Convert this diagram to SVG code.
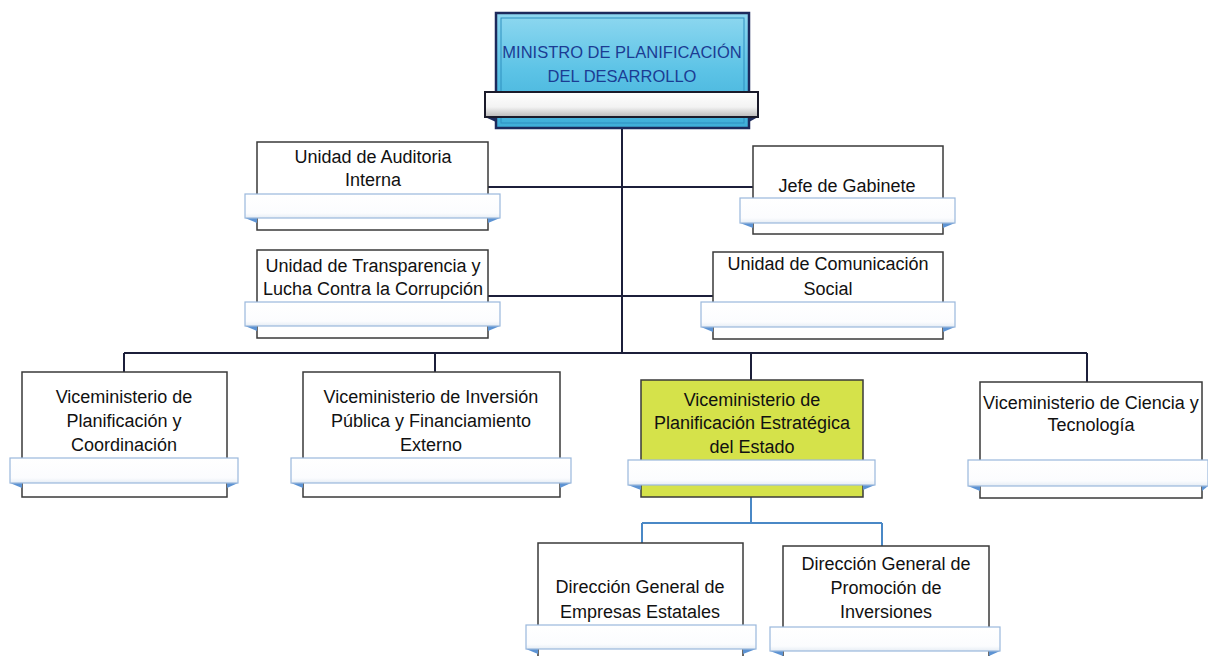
<svg xmlns="http://www.w3.org/2000/svg" width="1208" height="656" viewBox="0 0 1208 656">
<style>
  .box{fill:#ffffff;stroke:#3a3a3a;stroke-width:1.5}
  .yel{fill:#d5e24a;stroke:#3a3a3a;stroke-width:1.5}
  .rib{fill:url(#ribG);stroke:#9ab8dc;stroke-width:1.2}
  .fold{fill:#5d93d3}
  .t{font-family:"Liberation Sans",Arial,sans-serif;font-size:18px;fill:#111111;text-anchor:middle}
  .tt{font-family:"Liberation Sans",Arial,sans-serif;font-size:16.5px;fill:#1b3c93;text-anchor:middle}
  .ln{fill:none;stroke:#1c1f3a;stroke-width:2}
  .lb{fill:none;stroke:#4a88c6;stroke-width:2}
</style>
<defs>
  <linearGradient id="ribG" x1="0" y1="0" x2="0" y2="1">
    <stop offset="0" stop-color="#ffffff"/>
    <stop offset="0.8" stop-color="#fbfcfe"/>
    <stop offset="1" stop-color="#e6edf5"/>
  </linearGradient>
  <linearGradient id="topG" x1="0" y1="0" x2="0" y2="1">
    <stop offset="0" stop-color="#8fd8f0"/>
    <stop offset="0.5" stop-color="#5cc3e6"/>
    <stop offset="1" stop-color="#3eaed8"/>
  </linearGradient>
  <linearGradient id="topRib" x1="0" y1="0" x2="0" y2="1">
    <stop offset="0" stop-color="#ffffff"/>
    <stop offset="0.6" stop-color="#f3f3f3"/>
    <stop offset="1" stop-color="#b9b9b9"/>
  </linearGradient>
</defs>

<g id="connectors">
  <path class="ln" d="M622 128 V353"/>
  <path class="ln" d="M488 187 H753"/>
  <path class="ln" d="M488 296 H713"/>
  <path class="ln" d="M124 353 H1087"/>
  <path class="ln" d="M124 353 V372"/>
  <path class="ln" d="M435 353 V372"/>
  <path class="ln" d="M751 353 V380"/>
  <path class="ln" d="M1087 353 V382"/>
  <path class="lb" d="M751 497 V523"/>
  <path class="lb" d="M642 523 H882"/>
  <path class="lb" d="M642 523 V543"/>
  <path class="lb" d="M882 523 V546"/>
</g>

<g id="ministro">
  <rect x="496" y="13" width="253" height="115" fill="url(#topG)" stroke="#1c2a5c" stroke-width="2.5"/>
  <rect x="501" y="18" width="243" height="105" fill="none" stroke="#2f8fc0" stroke-width="1"/>
  <text class="tt" x="622" y="58">MINISTRO DE PLANIFICACIÓN</text>
  <text class="tt" x="622" y="82">DEL DESARROLLO</text>
  <polygon points="485,117 496,117 496,122" fill="#1c2a5c"/>
  <polygon points="758,117 749,117 749,122" fill="#1c2a5c"/>
  <rect x="485" y="92" width="273" height="25" fill="url(#topRib)" stroke="#1a1a2a" stroke-width="2"/>
</g>

<g id="auditoria">
  <rect class="box" x="257" y="142" width="231" height="88"/>
  <text class="t" x="373" y="163">Unidad de Auditoria</text>
  <text class="t" x="373" y="186">Interna</text>
  <polygon class="fold" points="245,218 257,218 257,223"/>
  <polygon class="fold" points="500,218 488,218 488,223"/>
  <rect class="rib" x="245" y="194" width="255" height="24"/>
</g>

<g id="transparencia">
  <rect class="box" x="257" y="250" width="231" height="88"/>
  <text class="t" x="373" y="272">Unidad de Transparencia y</text>
  <text class="t" x="373" y="295">Lucha Contra la Corrupción</text>
  <polygon class="fold" points="245,326 257,326 257,331"/>
  <polygon class="fold" points="500,326 488,326 488,331"/>
  <rect class="rib" x="245" y="302" width="255" height="24"/>
</g>

<g id="jefe">
  <rect class="box" x="753" y="146" width="190" height="88"/>
  <text class="t" x="847" y="192">Jefe de Gabinete</text>
  <polygon class="fold" points="740,223 753,223 753,228"/>
  <polygon class="fold" points="955,223 943,223 943,228"/>
  <rect class="rib" x="740" y="198" width="215" height="25"/>
</g>

<g id="comunicacion">
  <rect class="box" x="713" y="252" width="230" height="87"/>
  <text class="t" x="828" y="270">Unidad de Comunicación</text>
  <text class="t" x="828" y="295">Social</text>
  <polygon class="fold" points="701,327 713,327 713,332"/>
  <polygon class="fold" points="955,327 943,327 943,332"/>
  <rect class="rib" x="701" y="302" width="254" height="25"/>
</g>

<g id="vm-planificacion">
  <rect class="box" x="22" y="372" width="205" height="125"/>
  <text class="t" x="124" y="403">Viceministerio de</text>
  <text class="t" x="124" y="427">Planificación y</text>
  <text class="t" x="124" y="451">Coordinación</text>
  <polygon class="fold" points="10,483 22,483 22,488"/>
  <polygon class="fold" points="238,483 227,483 227,488"/>
  <rect class="rib" x="10" y="458" width="228" height="25"/>
</g>

<g id="vm-inversion">
  <rect class="box" x="303" y="372" width="257" height="125"/>
  <text class="t" x="431" y="403">Viceministerio de Inversión</text>
  <text class="t" x="431" y="427">Pública y Financiamiento</text>
  <text class="t" x="431" y="451">Externo</text>
  <polygon class="fold" points="291,483 303,483 303,488"/>
  <polygon class="fold" points="571,483 560,483 560,488"/>
  <rect class="rib" x="291" y="458" width="280" height="25"/>
</g>

<g id="vm-estrategica">
  <rect class="yel" x="641" y="380" width="222" height="117"/>
  <text class="t" x="752" y="406">Viceministerio de</text>
  <text class="t" x="752" y="429">Planificación Estratégica</text>
  <text class="t" x="752" y="453">del Estado</text>
  <polygon class="fold" points="628,485 641,485 641,490"/>
  <polygon class="fold" points="875,485 863,485 863,490"/>
  <rect class="rib" x="628" y="460" width="247" height="25"/>
</g>

<g id="vm-ciencia">
  <rect class="box" x="980" y="382" width="222" height="116"/>
  <text class="t" x="1091" y="409">Viceministerio de Ciencia y</text>
  <text class="t" x="1091" y="431">Tecnología</text>
  <polygon class="fold" points="968,486 980,486 980,491"/>
  <polygon class="fold" points="1208,486 1202,486 1202,491"/>
  <rect class="rib" x="968" y="460" width="240" height="26"/>
</g>

<g id="dg-empresas">
  <rect class="box" x="538" y="543" width="205" height="120"/>
  <text class="t" x="640" y="593">Dirección General de</text>
  <text class="t" x="640" y="618">Empresas Estatales</text>
  <polygon class="fold" points="526,649 538,649 538,654"/>
  <polygon class="fold" points="756,649 743,649 743,654"/>
  <rect class="rib" x="526" y="625" width="230" height="24"/>
</g>

<g id="dg-promocion">
  <rect class="box" x="783" y="546" width="206" height="117"/>
  <text class="t" x="886" y="570">Dirección General de</text>
  <text class="t" x="886" y="594">Promoción de</text>
  <text class="t" x="886" y="618">Inversiones</text>
  <polygon class="fold" points="770,651 783,651 783,656"/>
  <polygon class="fold" points="1000,651 989,651 989,656"/>
  <rect class="rib" x="770" y="627" width="230" height="24"/>
</g>
</svg>
